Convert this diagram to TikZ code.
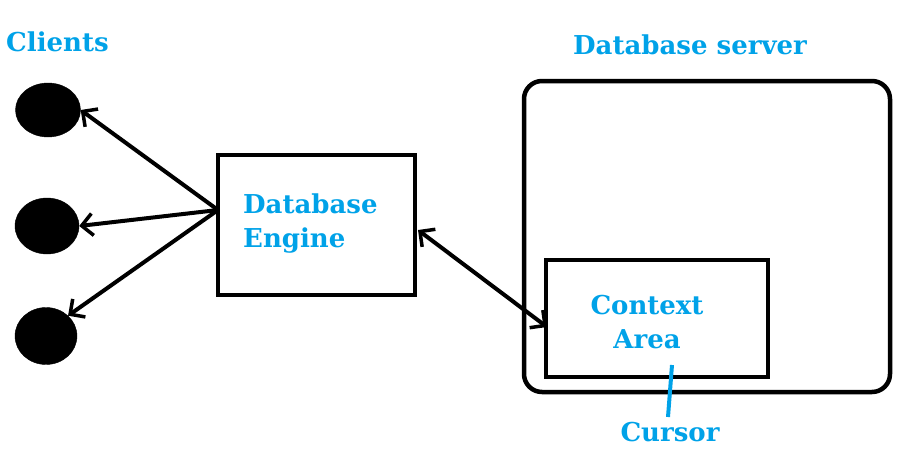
\documentclass[tikz,border=0pt]{standalone}
\usepackage{fontspec}
\setmainfont{DejaVu Serif}
\usetikzlibrary{arrows.meta,shapes.geometric}
\definecolor{paintblue}{RGB}{0,162,232}
\tikzset{
  lbl/.style={text=paintblue,font=\bfseries\fontsize{26}{34}\selectfont,inner sep=0pt},
  client/.style={ellipse,fill=black,draw=black,inner sep=0pt},
  box/.style={draw=black,line width=4.5pt},
  barb/.tip={Straight Barb[length=11pt,width=22pt,line width=3.5pt]},
  conn/.style={line width=4pt,-barb},
  dconn/.style={line width=4pt,barb-barb}
}
\begin{document}
\begin{tikzpicture}[x=1pt,y=-1pt]
\useasboundingbox (0,0) rectangle (915,474);
% clients
\node[client,minimum width=65pt,minimum height=54pt] (c1) at (48,110) {};
\node[client,minimum width=64pt,minimum height=56pt] (c2) at (47,226) {};
\node[client,minimum width=62pt,minimum height=57pt] (c3) at (46,336) {};
\node[lbl,anchor=west] (clients) at (6,42) {Clients};
% engine
\node[box,minimum width=197pt,minimum height=140pt,inner sep=0pt] (eng) at (316.5,225) {};
\node[lbl,align=left,anchor=west] (engtxt) at (243,224) {Database\\Engine};
% server
\draw[line width=4.5pt,rounded corners=18pt] (524,81) rectangle (890,392);
\node[lbl] (srvtxt) at (690,45) {Database server};
% context
\node[box,minimum width=222pt,minimum height=117pt,inner sep=0pt] (ctx) at (657,318.5) {};
\node[lbl,align=center] (ctxtxt) at (647,322) {Context\\Area};
% cursor
\coordinate (cur1) at (672,365);
\coordinate (cur2) at (668,417);
\node[lbl] (curtxt) at (670,432) {Cursor};
\draw[paintblue,line width=4pt] (cur1) -- (cur2);
% connectors
\coordinate (ep) at (218,210);
\draw[conn] (ep) -- (c1.east);
\draw[conn] (ep) -- (c2.east);
\draw[conn] (ep) -- (c3.north east);
\coordinate (da) at (418,230);
\coordinate (db) at (547,327);
\draw[dconn] (da) -- (db);
\end{tikzpicture}
\end{document}
